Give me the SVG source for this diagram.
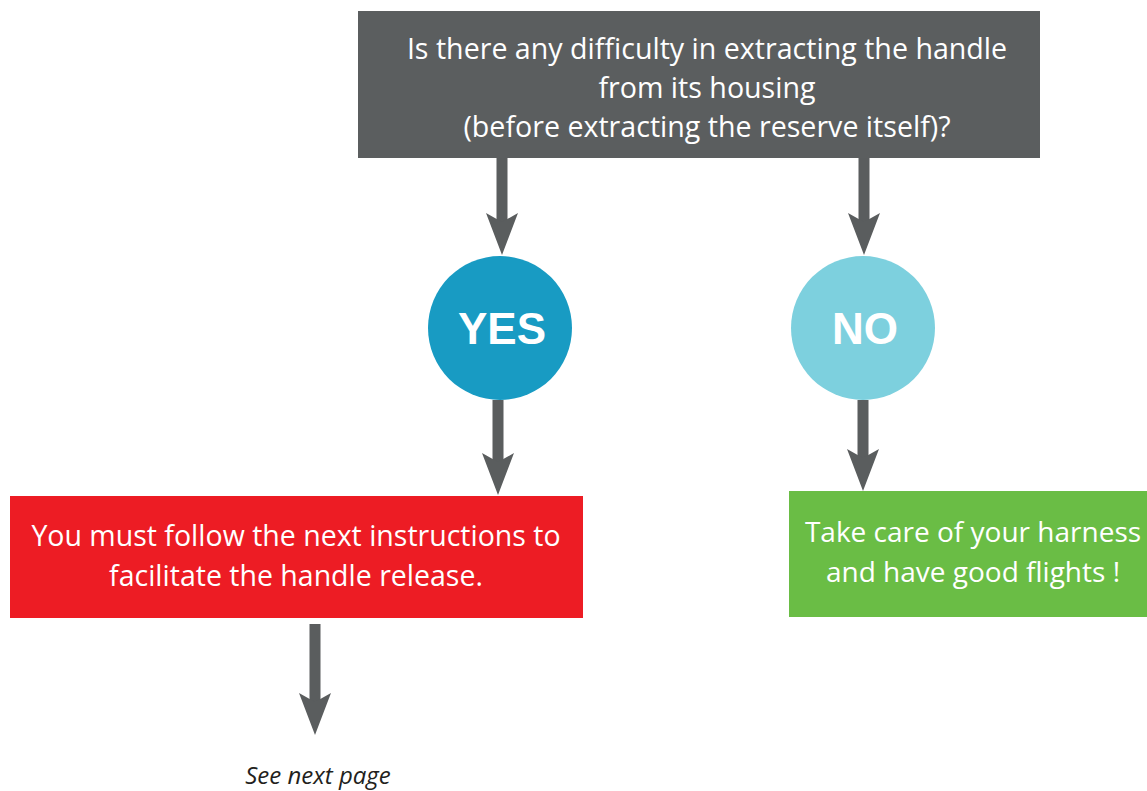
<svg xmlns="http://www.w3.org/2000/svg" width="1147" height="791" viewBox="0 0 1147 791">
<style>
.t{font-family:"Open Sans","Noto Sans","Liberation Sans",sans-serif;fill:#fff;text-anchor:middle}
.q{font-size:28.6px}
.b{font-size:28.5px}
.g{font-size:28px}
.c{font-family:"Liberation Sans",Arial,sans-serif;font-weight:bold;font-size:44px;fill:#fff;text-anchor:middle}
.a{fill:#5A5D5E}
</style>
<rect width="1147" height="791" fill="#fff"/>
<g id="connectors">
<g class="a"><rect x="496.5" y="158" width="11" height="64"/><path d="M486,213 L502,222 L518,213 L502,255 Z"/></g>
<g class="a"><rect x="858.5" y="158" width="11" height="64"/><path d="M848,213 L864,222 L880,213 L864,255 Z"/></g>
<g class="a"><rect x="492.5" y="400" width="11" height="62"/><path d="M482,453 L498,462 L514,453 L498,495 Z"/></g>
<g class="a"><rect x="857.5" y="400" width="11" height="58"/><path d="M847,449 L863,458 L879,449 L863,491 Z"/></g>
<g class="a"><rect x="309.5" y="624" width="11" height="78"/><path d="M299,693 L315,702 L331,693 L315,735 Z"/></g>
</g>
<g id="question">
<rect x="358" y="11" width="682" height="147" fill="#5B5E5F"/>
<text class="t q" x="707" y="59">Is there any difficulty in extracting the handle</text>
<text class="t q" x="707" y="98">from its housing</text>
<text class="t q" x="707" y="137">(before extracting the reserve itself)?</text>
</g>
<g id="yes">
<circle cx="500" cy="328" r="72" fill="#189BC3"/>
<text class="c" x="502" y="344">YES</text>
</g>
<g id="no">
<circle cx="863" cy="328" r="72" fill="#7DD0DE"/>
<text class="c" x="865" y="344">NO</text>
</g>
<g id="yes-action">
<rect x="10" y="496" width="573" height="122" fill="#ED1C24"/>
<text class="t b" x="296" y="546">You must follow the next instructions to</text>
<text class="t b" x="296" y="586">facilitate the handle release.</text>
</g>
<g id="no-action">
<rect x="789" y="491" width="358" height="126" fill="#6ABD45"/>
<text class="t g" x="973" y="542">Take care of your harness</text>
<text class="t g" x="973" y="582">and have good flights !</text>
</g>
<g id="next">
<text x="318" y="784" font-family="Open Sans,Noto Sans,sans-serif" font-style="italic" font-size="24" fill="#231F20" text-anchor="middle">See next page</text>
</g>
</svg>
